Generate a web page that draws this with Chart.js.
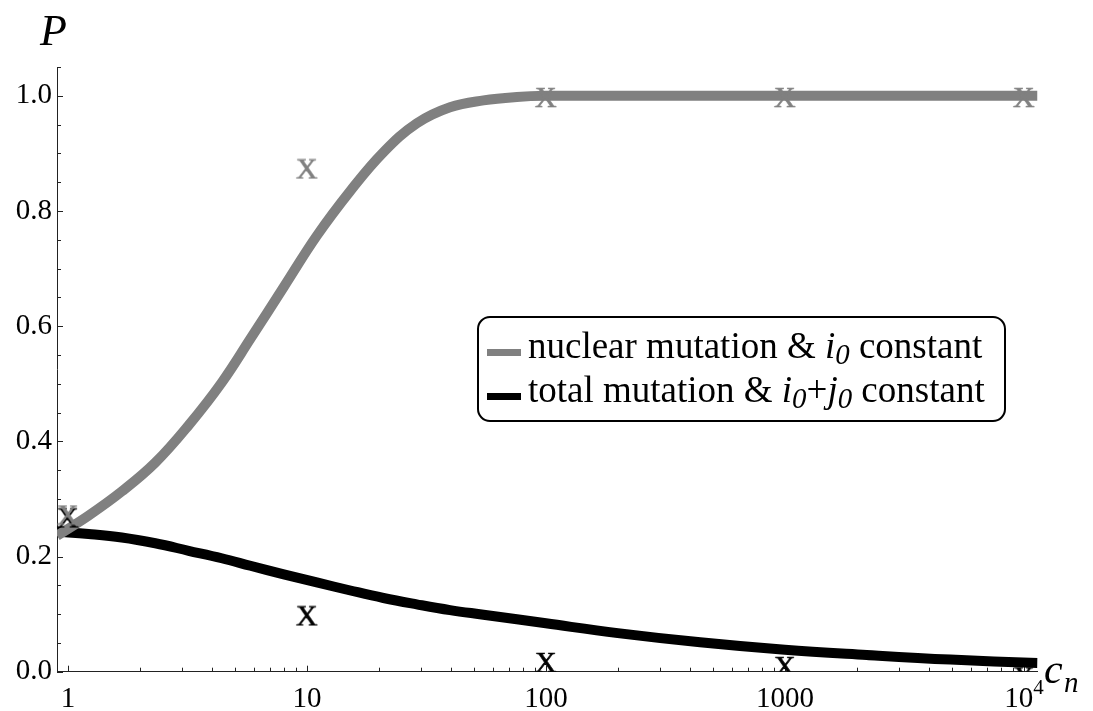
<!DOCTYPE html>
<html>
<head>
<meta charset="utf-8">
<script src="https://cdn.jsdelivr.net/npm/chart.js@4.4.1/dist/chart.umd.min.js"></script>
<style>
  html, body { margin: 0; padding: 0; background: #fff; }
</style>
</head>
<body>
<canvas id="chart" width="1093" height="711"></canvas>
<script>
"use strict";
// ========== DATA ========== //
// c_n sample points for the two analytic curves
const cnSamples = [0.9, 1.22, 1.68, 2.32, 3.2, 4.4, 5.8, 8.0, 11, 15.2, 20.9, 28.8, 39.7, 54.8, 75.6, 100, 200, 442, 1000, 2200, 4920, 11400];
const nuclearP = [0.236, 0.271, 0.313, 0.363, 0.428, 0.502, 0.578, 0.668, 0.757, 0.835, 0.902, 0.952, 0.980, 0.992, 0.998, 1.0, 1.0, 1.0, 1.0, 1.0, 1.0, 1.0];
const totalP = [0.243, 0.239, 0.233, 0.223, 0.210, 0.197, 0.184, 0.169, 0.155, 0.141, 0.128, 0.117, 0.107, 0.099, 0.091, 0.084, 0.067, 0.051, 0.038, 0.029, 0.021, 0.015];
// simulation results (the "X" marks)
const cnSim = [1, 10, 100, 1000, 10000];
const nuclearSim = [0.272, 0.873, 0.997, 0.997, 0.997];
const totalSim = [0.267, 0.097, 0.016, 0.009, -0.009];
// axes
const xMajorTicks = [1, 10, 100, 1000, 10000];
const xTickLabels = ['1', '10', '100', '1000', '10'];
const xTickExponents = ['', '', '', '', '4'];
const yMajorTicks = [0, 0.2, 0.4, 0.6, 0.8, 1.0];
const yTickLabels = ['0.0', '0.2', '0.4', '0.6', '0.8', '1.0'];
// legend labels: [text, style] parts
const seriesNames = [
  [['nuclear mutation & ', ''], ['i', 'it'], ['0', 'sub'], [' constant', '']],
  [['total mutation & ', ''], ['i', 'it'], ['0', 'sub'], ['+', ''], ['j', 'it'], ['0', 'sub'], [' constant', '']]
];

const GRAY = '#808080';
const BLACK = '#000000';
const AXIS = '#222222';
const SERIF = "'Liberation Serif', 'Times New Roman', serif";

// makes a canvas with an "X" glyph centred on its box, used as point style
function makeMark(color) {
  const c = document.createElement('canvas');
  const g = c.getContext('2d');
  g.font = '30px ' + SERIF;
  const m = g.measureText('X');
  const w = Math.ceil(m.actualBoundingBoxLeft + m.actualBoundingBoxRight) + 2;
  const h = Math.ceil(m.actualBoundingBoxAscent + m.actualBoundingBoxDescent) + 2;
  c.width = w; c.height = h;
  g.font = '30px ' + SERIF;
  g.fillStyle = color;
  g.strokeStyle = color;
  g.lineWidth = 0.6;
  g.fillText('X', 1 + m.actualBoundingBoxLeft, 1 + m.actualBoundingBoxAscent);
  g.strokeText('X', 1 + m.actualBoundingBoxLeft, 1 + m.actualBoundingBoxAscent);
  return c;
}

function drawRich(ctx, x, base, parts, size) {
  for (let p of parts) {
    let s = size, dy = 0, style = '';
    if (p[1] === 'it') style = 'italic ';
    if (p[1] === 'sub') { style = 'italic '; s = size * 0.78; dy = size * 0.17; }
    ctx.font = style + s + 'px ' + SERIF;
    ctx.fillText(p[0], x, base + dy);
    x += ctx.measureText(p[0]).width;
  }
}

// inward tick marks and x labels (with the power of ten raised)
const axisTicks = {
  id: 'axisTicks',
  beforeDatasetsDraw(chart) {
    const {ctx, chartArea: a, scales: {x, y}} = chart;
    ctx.save();
    ctx.strokeStyle = AXIS;
    ctx.lineWidth = 1;
    ctx.beginPath();
    for (let d = 1; d <= x.max; d *= 10) {
      for (let m = 1; m < 10; m++) {
        const v = m * d;
        if (v > x.max) break;
        const px = Math.round(x.getPixelForValue(v)) + 0.5;
        const len = m === 1 ? 6 : 4;
        ctx.moveTo(px, a.bottom);
        ctx.lineTo(px, a.bottom - len);
      }
    }
    for (let i = 0; i * 0.05 <= y.max + 1e-9; i++) {
      const py = Math.round(y.getPixelForValue(i * 0.05)) + 0.5;
      const len = i % 4 === 0 ? 6 : 4;
      ctx.moveTo(a.left, py);
      ctx.lineTo(a.left + len, py);
    }
    ctx.stroke();

    ctx.fillStyle = '#000';
    ctx.textBaseline = 'alphabetic';
    ctx.textAlign = 'left';
    const base = a.bottom + 35.5;
    xMajorTicks.forEach((v, i) => {
      ctx.font = '29px ' + SERIF;
      const w1 = ctx.measureText(xTickLabels[i]).width;
      ctx.font = '21px ' + SERIF;
      const w2 = xTickExponents[i] ? ctx.measureText(xTickExponents[i]).width : 0;
      const left = x.getPixelForValue(v) - (w1 + w2) / 2;
      ctx.font = '29px ' + SERIF;
      ctx.fillText(xTickLabels[i], left, base);
      if (w2) {
        ctx.font = '21px ' + SERIF;
        ctx.fillText(xTickExponents[i], left + w1, base - 13);
      }
    });
    ctx.restore();
  }
};

// framed legend and axis names
const decorations = {
  id: 'decorations',
  afterDraw(chart) {
    const ctx = chart.ctx;
    ctx.save();
    ctx.fillStyle = '#000';
    ctx.textBaseline = 'alphabetic';
    ctx.textAlign = 'left';
    // axis names
    ctx.font = 'italic 44px ' + SERIF;
    ctx.fillText('P', 40, 45);
    ctx.font = 'italic 42px ' + SERIF;
    ctx.fillText('c', 1044, 683);
    ctx.font = 'italic 29px ' + SERIF;
    ctx.fillText('n', 1064, 692);

    // legend box
    ctx.lineWidth = 2;
    ctx.strokeStyle = '#000';
    ctx.beginPath();
    ctx.roundRect(478, 317, 527, 104, 12);
    ctx.stroke();
    const colors = [GRAY, BLACK];
    const rows = [352.5, 396.5];
    for (let i = 0; i < seriesNames.length; i++) {
      ctx.strokeStyle = colors[i];
      ctx.lineWidth = 7;
      ctx.beginPath();
      ctx.moveTo(487, rows[i]);
      ctx.lineTo(521, rows[i]);
      ctx.stroke();
      ctx.fillStyle = '#000';
      drawRich(ctx, 528, rows[i] + 5.5, seriesNames[i], 37);
    }
    ctx.restore();
  }
};

const pts = (xs, ys) => xs.map((v, i) => ({x: v, y: ys[i]}));
const markClip = {left: false, top: false, right: false, bottom: 0};

let chart = new Chart(document.querySelector('#chart'), {
  type: 'line',
  data: {
    datasets: [
      { label: 'nuclear sim', data: pts(cnSim, nuclearSim), showLine: false, pointStyle: makeMark(GRAY), pointRadius: 10, order: 0, clip: markClip },
      { label: 'total sim', data: pts(cnSim, totalSim), showLine: false, pointStyle: makeMark(BLACK), pointRadius: 10, order: 0, clip: markClip },
      { label: 'nuclear', data: pts(cnSamples, nuclearP), borderColor: GRAY, borderWidth: 10, pointRadius: 0, tension: 0.4, borderCapStyle: 'butt', borderJoinStyle: 'round', order: 1 },
      { label: 'total', data: pts(cnSamples, totalP), borderColor: BLACK, borderWidth: 10, pointRadius: 0, tension: 0.4, borderCapStyle: 'butt', borderJoinStyle: 'round', order: 2 }
    ]
  },
  options: {
    responsive: false,
    animation: false,
    events: [],
    layout: { padding: { top: 67, right: 55.5, left: 0, bottom: 0 } },
    plugins: { legend: { display: false }, tooltip: { enabled: false } },
    scales: {
      x: {
        type: 'logarithmic',
        min: 0.9,
        max: 11400,
        grid: { display: false, drawTicks: false },
        border: { display: true, color: AXIS, width: 1 },
        ticks: { display: false },
        afterFit: (s) => { s.height = 39.3; }
      },
      y: {
        min: 0,
        max: 1.05,
        grid: { display: false, drawTicks: false },
        border: { display: true, color: AXIS, width: 1 },
        ticks: {
          color: '#000', padding: 5,
          font: { family: SERIF, size: 29 },
          callback: (v, i) => yTickLabels[i]
        },
        afterBuildTicks: (s) => { s.ticks = yMajorTicks.map(v => ({value: v})); },
        afterFit: (s) => { s.width = 57; }
      }
    }
  },
  plugins: [axisTicks, decorations]
});
</script>
</body>
</html>
